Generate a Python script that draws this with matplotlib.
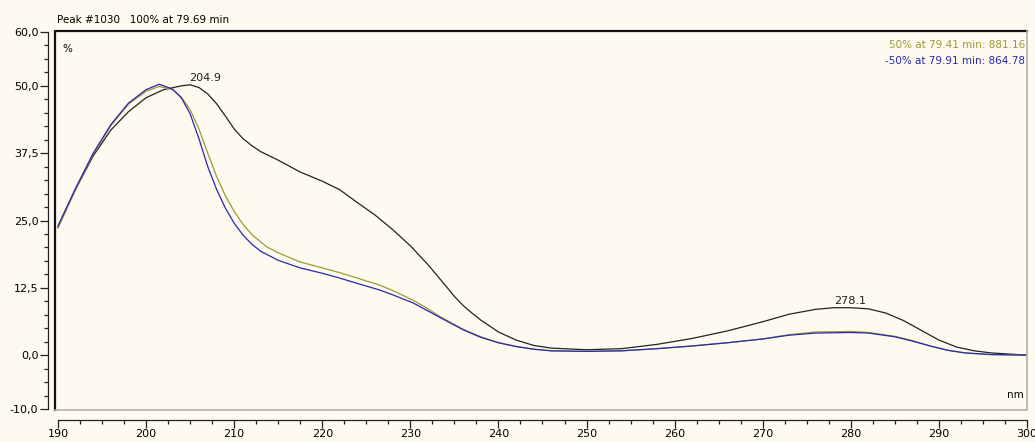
import matplotlib
matplotlib.use("Agg")
import matplotlib.pyplot as plt
from matplotlib.ticker import MultipleLocator, FixedLocator, FuncFormatter

# spectra (nm, %)
wl_black = [190, 192, 194, 196, 198, 200, 202, 204, 205, 206, 207, 208, 209, 210,
            211, 212, 213, 215, 217.5, 220, 222, 224, 226, 228, 230, 232, 234, 235, 236,
            237, 238, 240, 242, 244, 246, 250, 254, 258, 262, 266, 270, 273, 276, 278,
            280, 282, 284, 286, 288, 290, 292, 294, 296, 298, 300]
pct_black = [23.8, 30.8, 37.0, 41.8, 45.2, 47.8, 49.3, 50.0, 50.2, 49.7, 48.5, 46.7, 44.4, 42.0,
             40.2, 38.9, 37.8, 36.2, 34.0, 32.3, 30.7, 28.3, 26.0, 23.3, 20.3, 16.8, 12.9, 10.9, 9.2,
             7.8, 6.5, 4.3, 2.8, 1.8, 1.3, 1.0, 1.2, 2.0, 3.1, 4.5, 6.2, 7.6, 8.5, 8.8,
             8.8, 8.6, 7.8, 6.4, 4.6, 2.8, 1.5, 0.8, 0.4, 0.2, 0.0]

wl_pos = [190, 192, 194, 196, 198, 200, 201.5, 203, 204, 205, 206, 207, 208, 209,
          210, 211, 212, 213.7, 215, 217.5, 220, 222, 224, 226.5, 228, 230.3, 232,
          233.4, 235, 236, 238, 240, 242, 244, 246, 250, 254, 258, 262, 266, 270,
          273, 276, 280, 282, 285, 287, 289, 291, 293, 296, 300]
pct_pos = [23.6, 30.8, 37.3, 42.6, 46.6, 49.0, 49.9, 49.3, 47.9, 45.6, 42.0, 37.5, 33.2, 29.6,
           26.7, 24.3, 22.4, 20.1, 19.0, 17.3, 16.2, 15.3, 14.3, 13.0, 12.0, 10.2, 8.6,
           7.1, 5.7, 4.8, 3.4, 2.3, 1.6, 1.1, 0.8, 0.7, 0.8, 1.2, 1.7, 2.3, 3.0,
           3.8, 4.3, 4.4, 4.2, 3.5, 2.7, 1.7, 0.9, 0.4, 0.1, 0.0]

wl_neg = [190, 192, 194, 196, 198, 200, 201.5, 203, 204, 205, 206, 207, 208, 209,
          210, 211, 212, 213, 215, 217.5, 220, 222, 224, 226.5, 228, 230.3, 232,
          234.5, 236, 238, 240, 242, 244, 246, 250, 254, 258, 262, 266, 270, 273,
          276, 280, 282, 285, 287, 289, 291, 293, 296, 300]
pct_neg = [24.0, 31.0, 37.5, 42.8, 46.8, 49.3, 50.3, 49.4, 47.8, 44.8, 40.2, 35.0, 30.8, 27.3,
           24.5, 22.3, 20.6, 19.3, 17.6, 16.2, 15.2, 14.3, 13.3, 12.1, 11.2, 9.7, 8.2,
           6.0, 4.7, 3.3, 2.3, 1.6, 1.1, 0.8, 0.7, 0.8, 1.2, 1.7, 2.3, 3.0, 3.7,
           4.1, 4.2, 4.1, 3.4, 2.6, 1.7, 0.9, 0.4, 0.1, 0.0]

peaks = [204.9, 278.1]
peak_vals = [50.2, 8.8]
y_ticks = [-10, 0, 12.5, 25, 37.5, 50, 60]

bg = "#fefaf0"
black = "#222222"
olive = "#9a9a35"
blue = "#2828b0"

fig = plt.figure(figsize=(10.35, 4.42), dpi=100, facecolor=bg)
ax = fig.add_axes([55 / 1035, 32 / 442, 972 / 1035, 379 / 442], facecolor=bg)

ax.plot(wl_black, pct_black, color=black, lw=0.9)
ax.plot(wl_pos, pct_pos, color=olive, lw=0.9)
ax.plot(wl_neg, pct_neg, color=blue, lw=0.9)

for p, v in zip(peaks, peak_vals):
    ax.text(p, v + 0.4, f"{p}", ha="left", va="bottom", fontsize=8, color=black)

ax.set_xlim(189.66, 300.0)
ax.set_ylim(-10.19, 60.19)

# frame: dark on top/left, grey on bottom/right
ax.plot([0, 0, 1], [0, 1, 1], transform=ax.transAxes, color="#111111", lw=1.6, clip_on=False)
ax.plot([0, 1, 1], [0, 0, 1], transform=ax.transAxes, color="#b0b0b0", lw=1.2, clip_on=False)

for s in ["top", "right"]:
    ax.spines[s].set_visible(False)
ax.spines["left"].set_position(("outward", 5))
ax.spines["left"].set_bounds(-10, 60)
ax.spines["bottom"].set_position(("outward", 7))
ax.spines["bottom"].set_bounds(190, 300)
for s in ["left", "bottom"]:
    ax.spines[s].set_color("#222222")
    ax.spines[s].set_linewidth(0.9)

ax.yaxis.set_major_locator(FixedLocator(y_ticks))
ax.yaxis.set_minor_locator(MultipleLocator(2.5))
ax.yaxis.set_major_formatter(FuncFormatter(lambda v, _: f"{v:.1f}".replace(".", ",")))
ax.xaxis.set_major_locator(MultipleLocator(10))
ax.xaxis.set_minor_locator(MultipleLocator(2.5))
ax.tick_params(axis="both", which="major", length=6, width=0.9, labelsize=8, color="#222222", pad=1)
ax.tick_params(axis="both", which="minor", length=3, width=0.9, color="#222222")

fig.text(57 / 1035, 1 - 20 / 442, "Peak #1030   100% at 79.69 min", fontsize=7.5, va="center", ha="left")
ax.text(0.008, 0.965, "%", transform=ax.transAxes, fontsize=7.5, va="top", ha="left")
ax.text(0.997, 0.04, "nm", transform=ax.transAxes, fontsize=7.5, va="center", ha="right")
ax.text(0.998, 0.975, "50% at 79.41 min: 881.16", transform=ax.transAxes, fontsize=7.5,
        va="top", ha="right", color=olive)
ax.text(0.998, 0.935, "-50% at 79.91 min: 864.78", transform=ax.transAxes, fontsize=7.5,
        va="top", ha="right", color=blue)

fig.savefig("out.png", dpi=100, facecolor=bg)
